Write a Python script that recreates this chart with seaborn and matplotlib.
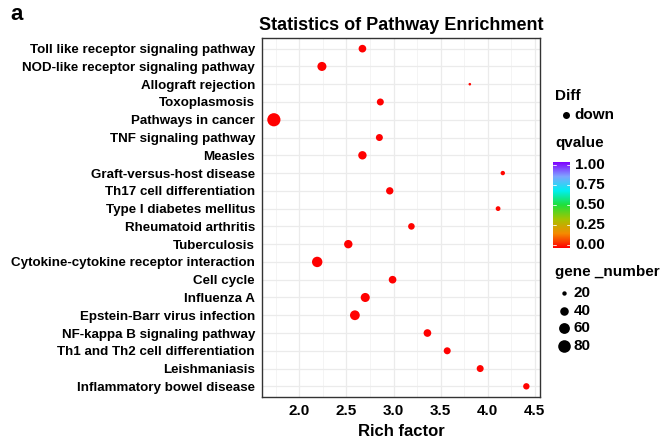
import numpy as np
import pandas as pd
import matplotlib
matplotlib.use("Agg")
import matplotlib.pyplot as plt
import seaborn as sns
from matplotlib.colors import LinearSegmentedColormap, Normalize
from matplotlib.ticker import MultipleLocator

pathways = [
    "Toll like receptor signaling pathway",
    "NOD-like receptor signaling pathway",
    "Allograft rejection",
    "Toxoplasmosis",
    "Pathways in cancer",
    "TNF signaling pathway",
    "Measles",
    "Graft-versus-host disease",
    "Th17 cell differentiation",
    "Type I diabetes mellitus",
    "Rheumatoid arthritis",
    "Tuberculosis",
    "Cytokine-cytokine receptor interaction",
    "Cell cycle",
    "Influenza A",
    "Epstein-Barr virus infection",
    "NF-kappa B signaling pathway",
    "Th1 and Th2 cell differentiation",
    "Leishmaniasis",
    "Inflammatory bowel disease",
]
rich_factor = [2.67, 2.24, 3.81, 2.86, 1.73, 2.85, 2.67, 4.16, 2.96, 4.11,
               3.19, 2.52, 2.19, 2.99, 2.70, 2.59, 3.36, 3.57, 3.92, 4.41]
gene_number = [34, 44, 18, 30, 88, 30, 39, 20, 32, 21,
               28, 39, 56, 34, 44, 50, 34, 30, 30, 27]
qvalue = [0.001, 0.0005, 0.01, 0.002, 0.0001, 0.002, 0.001, 0.01, 0.003, 0.01,
          0.004, 0.001, 0.0002, 0.001, 0.0005, 0.0003, 0.002, 0.003, 0.005, 0.006]
diff = ["down"] * len(pathways)

size_breaks = [20, 40, 60, 80]
q_ticks = [0.00, 0.25, 0.50, 0.75, 1.00]

df = pd.DataFrame({"Pathway": pathways, "Rich factor": rich_factor,
                   "gene_number": gene_number, "qvalue": qvalue, "Diff": diff})

# ggplot-like area scale: diameter grows with sqrt of rescaled count
nmin, nmax = 18, 88
def dot_area(n):
    d_px = 2.6 + 10.6 * np.sqrt(max(n - nmin, 0) / (nmax - nmin))
    return (d_px * 0.72) ** 2

size_map = {n: dot_area(n) for n in set(gene_number)}

cmap = LinearSegmentedColormap.from_list(
    "rb", ["#FF0000", "#F58A00", "#A6C400", "#1FE03A", "#00F0F0", "#7FA6FF", "#8000FF"])
norm = Normalize(0, 1)

sns.set_style("white")
plt.rcParams["font.family"] = ["Liberation Sans", "DejaVu Sans"]
plt.rcParams["font.weight"] = "bold"
plt.rcParams["text.color"] = "black"
plt.rcParams["axes.labelcolor"] = "black"

fig = plt.figure(figsize=(6.67, 4.41), dpi=100)
ax = fig.add_axes([262 / 667, 1 - 397 / 441, 278 / 667, 359 / 441])

ax.set_xlim(1.604, 4.555)
ax.set_ylim(len(pathways) - 0.4, -0.6)
ax.xaxis.set_major_locator(MultipleLocator(0.5))
ax.xaxis.set_minor_locator(MultipleLocator(0.25))
ax.grid(True, which="major", color="#EBEBEB", linewidth=0.9)
ax.grid(True, which="minor", axis="x", color="#F3F3F3", linewidth=0.6)
ax.set_axisbelow(True)

sns.scatterplot(data=df, x="Rich factor", y="Pathway", hue="qvalue",
                palette=cmap, hue_norm=norm, size="gene_number", sizes=size_map,
                linewidth=0, legend=False, ax=ax, zorder=3)

for s in ax.spines.values():
    s.set_color("#333333")
    s.set_linewidth(1.0)
ax.tick_params(axis="both", which="major", length=3, width=0.8, color="#333333",
               labelsize=9.6, labelcolor="black", pad=2)
ax.tick_params(axis="x", which="minor", length=0)
ax.tick_params(axis="x", labelsize=11)
for lab in ax.get_xticklabels() + ax.get_yticklabels():
    lab.set_fontweight("bold")
ax.set_xlabel("Rich factor", fontsize=12, fontweight="bold", labelpad=4, color="black")
ax.set_ylabel("")
ax.set_title("Statistics of Pathway Enrichment", fontsize=13, fontweight="bold",
             pad=6, color="black")

fig.text(10 / 667, 1 - 20 / 441, "a", fontsize=16, fontweight="bold", color="black")

# legends
leg = fig.add_axes([0, 0, 1, 1])
leg.set_xlim(0, 667)
leg.set_ylim(441, 0)
leg.axis("off")
leg.text(555, 96, "Diff", fontsize=11, fontweight="bold", va="center")
leg.scatter([566], [115], s=dot_area(30), color="black", linewidth=0)
leg.text(574, 115, "down", fontsize=11, fontweight="bold", va="center")
leg.text(555, 143, "qvalue", fontsize=11, fontweight="bold", va="center")

cax = fig.add_axes([553 / 667, 1 - 248 / 441, 17 / 667, 86 / 441])
grad = np.linspace(0, 1, 256).reshape(-1, 1)
cax.imshow(grad, aspect="auto", cmap=cmap, origin="lower", extent=(0, 1, 0, 1))
cax.set_xticks([])
cax.set_yticks([])
for s in cax.spines.values():
    s.set_visible(False)
for t in q_ticks:
    cax.plot([0, 0.2], [t * 0.94 + 0.03] * 2, color="white", linewidth=0.6)
    cax.plot([0.8, 1], [t * 0.94 + 0.03] * 2, color="white", linewidth=0.6)
    y = 248 - 3 - t * 80
    leg.text(575, y, f"{t:.2f}", fontsize=11, fontweight="bold", va="center")

leg.text(555, 272, "gene _number", fontsize=11, fontweight="bold", va="center")
for i, n in enumerate(size_breaks):
    y = 293 + i * 17.7
    leg.scatter([564], [y], s=dot_area(n), color="black", linewidth=0)
    leg.text(574, y, str(n), fontsize=11, fontweight="bold", va="center")

fig.savefig("out.png", dpi=100)
